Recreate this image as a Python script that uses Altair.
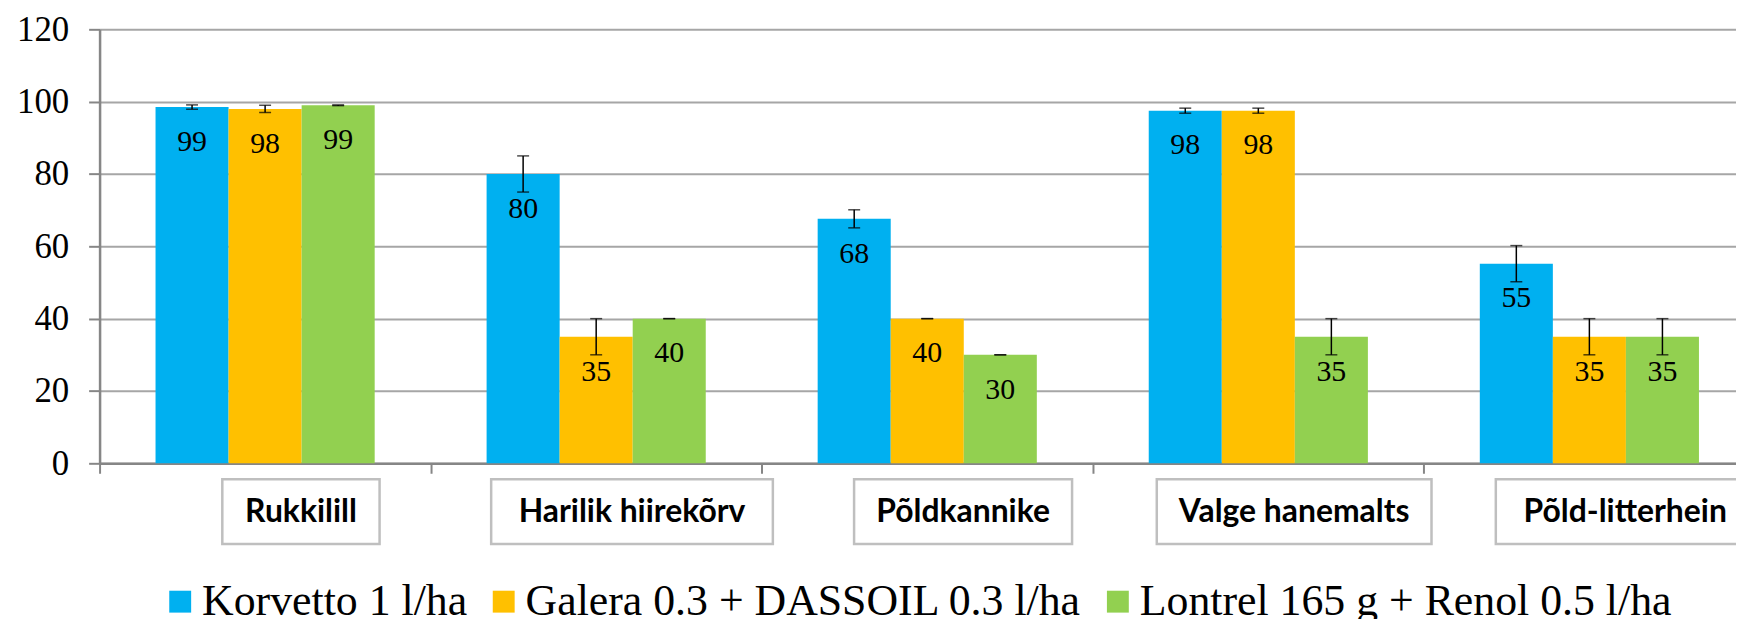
import altair as alt
import pandas as pd

categories = ["Rukkilill", "Harilik hiirekõrv", "Põldkannike", "Valge hanemalts", "Põld-litterhein"]
series = ["Korvetto 1 l/ha", "Galera 0.3 + DASSOIL 0.3 l/ha", "Lontrel 165 g + Renol 0.5 l/ha"]
korvetto = [98.5, 80.0, 67.6, 97.5, 55.2]
galera = [98.0, 35.0, 40.0, 97.5, 35.0]
lontrel = [99.0, 40.0, 30.0, 35.0, 35.0]
korvetto_err = [0.6, 5.0, 2.5, 0.7, 5.0]
galera_err = [1.0, 5.0, 0.0, 0.7, 5.0]
lontrel_err = [0.1, 0.0, 0.0, 5.0, 5.0]
colors = ["#00B0F0", "#FFC000", "#92D050"]
y_ticks = [0, 20, 40, 60, 80, 100, 120]

rows = []
for s, vals, errs in zip(series, [korvetto, galera, lontrel], [korvetto_err, galera_err, lontrel_err]):
    for c, v, e in zip(categories, vals, errs):
        rows.append({"cat": c, "series": s, "value": v, "lo": v - e, "hi": v + e})
df = pd.DataFrame(rows)
df_cat = pd.DataFrame({"cat": categories, "idx": list(range(len(categories)))})

BAND_RANGE = [0, 1663]
BAND_PX = 1663 / len(categories)
LABEL_SHIFT_PX = 36
SERIF = "Liberation Serif"

x_enc = alt.X(
    "cat:N",
    sort=categories,
    scale=alt.Scale(domain=categories, range=BAND_RANGE, paddingInner=0, paddingOuter=0),
    axis=alt.Axis(
        title=None, labels=False, tickBand="extent", grid=False,
        domainColor="#868686", domainWidth=2.5, tickColor="#868686", tickWidth=2, tickSize=10,
    ),
)
xoff_enc = alt.XOffset("series:N", sort=series,
                       scale=alt.Scale(domain=series, paddingOuter=0.766, paddingInner=0))
y_scale = alt.Scale(domain=[0, 120], nice=False)

base = alt.Chart(df).encode(x=x_enc, xOffset=xoff_enc)

bars = base.mark_bar().encode(
    y=alt.Y("value:Q", scale=y_scale, axis=alt.Axis(
        values=y_ticks, title=None, grid=True, gridColor="#a6a6a6", gridWidth=2,
        domainColor="#868686", domainWidth=2.5, tickColor="#868686", tickWidth=2, tickSize=11,
        labelFont=SERIF, labelFontSize=35, labelColor="black", labelPadding=20,
    )),
    color=alt.Color("series:N", sort=series, scale=alt.Scale(domain=series, range=colors),
                    legend=alt.Legend(
                        orient="none", legendX=59, legendY=553, direction="horizontal",
                        title=None, symbolType="square", symbolSize=484, symbolStrokeWidth=0,
                        labelFont=SERIF, labelFontSize=44, labelColor="black",
                        labelLimit=2000, columnPadding=14, labelOffset=0, padding=0,
                    )),
)

rules = base.mark_rule(color="black", strokeWidth=1.5).encode(
    y=alt.Y("lo:Q", scale=y_scale), y2="hi:Q")
caps_lo = base.mark_tick(color="black", thickness=1.5, size=12, orient="horizontal").encode(
    y=alt.Y("lo:Q", scale=y_scale))
caps_hi = base.mark_tick(color="black", thickness=1.5, size=12, orient="horizontal").encode(
    y=alt.Y("hi:Q", scale=y_scale))

labels = base.mark_text(font=SERIF, fontSize=30, color="black",
                        baseline="alphabetic", dy=44).encode(
    y=alt.Y("value:Q", scale=y_scale),
    text=alt.Text("label:Q", format=".0f"),
).transform_calculate(label="round(datum.value)")

data_layer = alt.layer(bars, rules, caps_lo, caps_hi, labels)

q_scale = alt.Scale(domain=[0, len(categories)], range=BAND_RANGE, nice=False, zero=False)
boxes_base = alt.Chart(df_cat).transform_calculate(
    n_narrow="length(replace(datum.cat, regexp('[^il-]', 'g'), ''))",
    n_space="length(replace(datum.cat, regexp('[^ ]', 'g'), ''))",
).transform_calculate(
    text_px="17 * (length(datum.cat) - datum.n_narrow - datum.n_space) + 8 * datum.n_narrow + 6 * datum.n_space",
).transform_calculate(
    mid=f"datum.idx + 0.5 + {LABEL_SHIFT_PX} / {BAND_PX}",
    half=f"(datum.text_px + 50) / 2 / {BAND_PX}",
).transform_calculate(
    lo="datum.mid - datum.half",
    hi="datum.mid + datum.half",
)
boxes = boxes_base.mark_rect(fill="white", stroke="#bfbfbf", strokeWidth=2.5).encode(
    x=alt.X("lo:Q", scale=q_scale, axis=None),
    x2="hi:Q",
    y=alt.value(452),
    y2=alt.value(517),
)
box_text = boxes_base.mark_text(font="Lato", fontWeight="bold", fontSize=32, color="black",
                                baseline="alphabetic", align="center").encode(
    x=alt.X("mid:Q", scale=q_scale, axis=None),
    y=alt.value(495),
    text="cat:N",
)
box_layer = alt.layer(boxes, box_text)

chart = alt.layer(data_layer, box_layer).resolve_scale(x="independent").properties(
    width=1644, height=436,
    padding={"left": 92, "top": 20, "right": 0, "bottom": 155},
    autosize=alt.AutoSizeParams(type="none"),
    background="white",
).configure_view(stroke=None)

chart.save("out.html", embed_options={"renderer": "svg", "actions": False})
